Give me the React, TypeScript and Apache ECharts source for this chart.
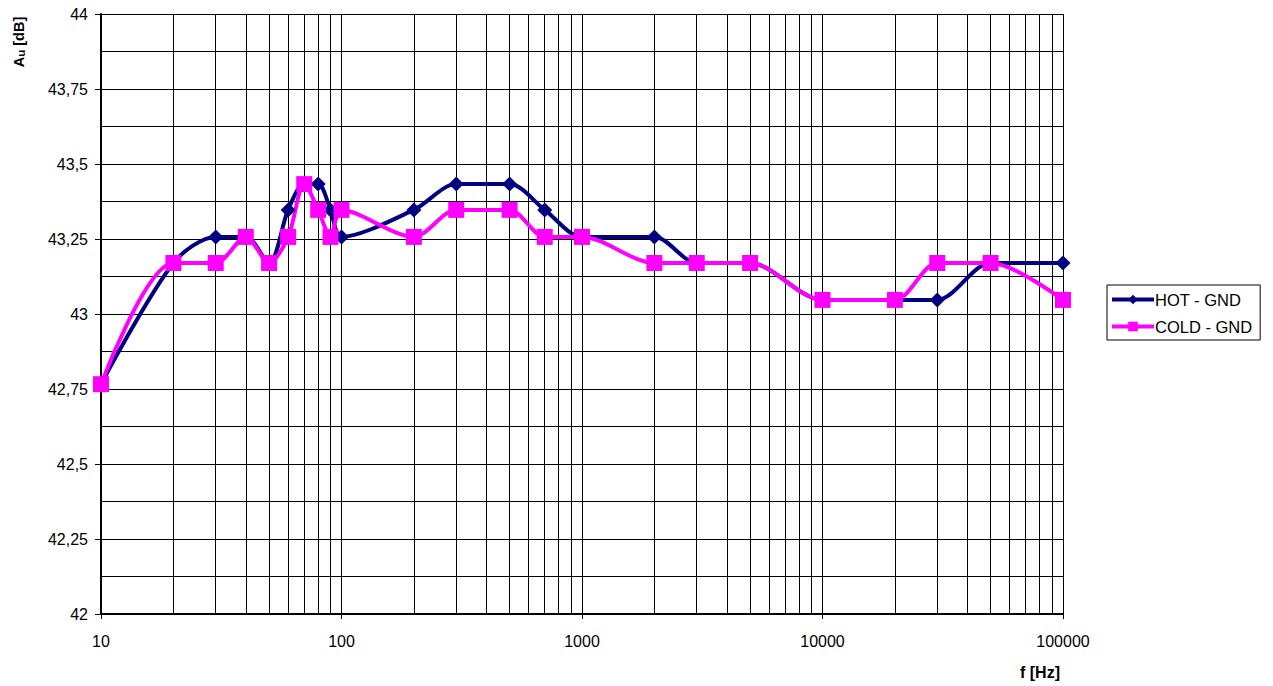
import React, { useEffect, useRef } from "react";
import * as echarts from "echarts";

const freqs = [10, 20, 30, 40, 50, 60, 70, 80, 90, 100, 200, 300, 500, 700, 1000, 2000, 3000, 5000, 10000, 20000, 30000, 50000, 100000];
const hotGnd = [42.766, 43.17, 43.257, 43.257, 43.17, 43.347, 43.433, 43.433, 43.347, 43.257, 43.347, 43.433, 43.433, 43.347, 43.257, 43.257, 43.17, 43.17, 43.047, 43.047, 43.047, 43.17, 43.17];
const coldGnd = [42.766, 43.17, 43.17, 43.257, 43.17, 43.257, 43.433, 43.347, 43.257, 43.347, 43.257, 43.347, 43.347, 43.257, 43.257, 43.17, 43.17, 43.17, 43.047, 43.047, 43.17, 43.17, 43.047];
const minorFreqs = [20, 30, 40, 50, 60, 70, 80, 90, 200, 300, 400, 500, 600, 700, 800, 900, 2000, 3000, 4000, 5000, 6000, 7000, 8000, 9000, 20000, 30000, 40000, 50000, 60000, 70000, 80000, 90000];
const seriesNames = ["HOT - GND", "COLD - GND"];

export default function App() {
  const ref = useRef<HTMLDivElement>(null);
  useEffect(() => {
    const chart = echarts.init(ref.current!, null, { renderer: "svg" });
    const font = "Arial, 'Liberation Sans', sans-serif";
    chart.setOption({
      animation: false,
      backgroundColor: "#fff",
      textStyle: { fontFamily: font },
      grid: { left: 101, top: 14, right: 210, bottom: 72, show: false },
      legend: {
        orient: "vertical",
        left: 1107,
        top: 285,
        borderColor: "#000",
        borderWidth: 1,
        padding: [6, 8, 5, 3],
        itemWidth: 42,
        itemHeight: 12,
        itemGap: 10,
        lineStyle: { width: 4 },
        textStyle: { fontFamily: font, fontSize: 16.5, color: "#000", padding: [0, 0, 0, -4] },
        data: seriesNames,
      },
      xAxis: {
        type: "log",
        logBase: 10,
        min: 10,
        max: 100000,
        axisLine: { show: true, onZero: false, lineStyle: { color: "#000", width: 2 } },
        axisTick: { show: true, inside: false, length: 5, lineStyle: { color: "#000" } },
        axisLabel: { color: "#000", fontSize: 16, fontFamily: font, margin: 19, formatter: (v: number) => String(v) },
        splitLine: { show: true, lineStyle: { color: "#000", width: 1 } },
        minorTick: { show: false },
        minorSplitLine: { show: false },
      },
      yAxis: {
        type: "value",
        min: 42,
        max: 44,
        interval: 0.25,
        axisLine: { show: true, lineStyle: { color: "#000", width: 2 } },
        axisTick: { show: true, inside: false, length: 6, lineStyle: { color: "#000" } },
        axisLabel: {
          color: "#000",
          fontSize: 16,
          fontFamily: font,
          margin: 13,
          formatter: (v: number) => String(v).replace(".", ","),
        },
        splitLine: { show: true, lineStyle: { color: "#000", width: 1 } },
        minorTick: { show: false, splitNumber: 2 },
        minorSplitLine: { show: true, lineStyle: { color: "#000", width: 1 } },
      },
      graphic: [
        {
          type: "text",
          x: 19,
          y: 42,
          rotation: Math.PI / 2,
          style: {
            text: "{a|A}{s|u}{a| [dB]}",
            align: "center",
            verticalAlign: "middle",
            fill: "#000",
            rich: {
              a: { fontFamily: font, fontSize: 14.5, fontWeight: "bold", fill: "#000" },
              s: { fontFamily: font, fontSize: 11.5, fontWeight: "bold", fill: "#000", padding: [4, 0, 0, 0] },
            },
          },
        },
        {
          type: "text",
          x: 1040,
          y: 672,
          style: {
            text: "f [Hz]",
            align: "center",
            verticalAlign: "middle",
            fontFamily: font,
            fontSize: 16,
            fontWeight: "bold",
            fill: "#000",
          },
        },
      ],
      series: [
        {
          name: seriesNames[0],
          type: "line",
          smooth: 0.3,
          data: freqs.map((f, i) => [f, hotGnd[i]]),
          symbol: "diamond",
          symbolSize: 15,
          lineStyle: { color: "#000080", width: 4 },
          itemStyle: { color: "#000080" },
          markLine: {
            silent: true,
            symbol: ["none", "none"],
            label: { show: false },
            lineStyle: { color: "#000", width: 1, type: "solid" },
            data: minorFreqs.map((f) => ({ xAxis: f })),
            z: 1,
          },
        },
        {
          name: seriesNames[1],
          type: "line",
          smooth: 0.3,
          data: freqs.map((f, i) => [f, coldGnd[i]]),
          symbol: "rect",
          symbolSize: 16,
          lineStyle: { color: "#FF00FF", width: 4 },
          itemStyle: { color: "#FF00FF" },
        },
      ],
    });
    return () => chart.dispose();
  }, []);
  return (
    <div
      ref={ref}
      style={{ position: "fixed", left: 0, top: 0, width: 1273, height: 686, background: "#fff" }}
    />
  );
}
